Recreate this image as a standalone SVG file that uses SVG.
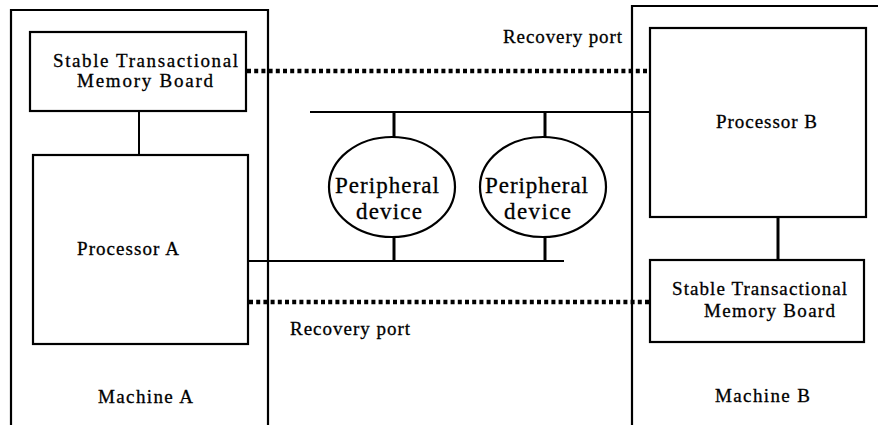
<svg xmlns="http://www.w3.org/2000/svg" width="878" height="425" viewBox="0 0 878 425">
<style>
.box{fill:none;stroke:#000;stroke-width:2.2}
.ln{fill:none;stroke:#000;stroke-width:2}
.thick{fill:none;stroke:#000;stroke-width:3}
.dot{fill:none;stroke:#000;stroke-width:4.5;stroke-dasharray:4 3.2}
text{font-family:"Liberation Serif","Times New Roman",serif;font-size:19px;fill:#000;stroke:#000;stroke-width:0.3}
.big{font-size:23px}
</style>
<rect width="878" height="425" fill="#fff" stroke="none"/>
<g id="machineA">
<polyline class="box" points="11,425 11,10 268,10 268,425"/>
<text x="98" y="403" textLength="95">Machine A</text>
</g>
<g id="machineB">
<polyline class="box" points="632,425 632,6 878,6"/>
<text x="715" y="402" textLength="95">Machine B</text>
</g>
<g id="stmbA">
<rect class="box" x="30" y="32" width="216" height="79"/>
<text x="53" y="67" textLength="185">Stable Transactional</text>
<text x="77" y="87" textLength="136">Memory Board</text>
</g>
<g id="processorA">
<rect class="box" x="33" y="155" width="215" height="189"/>
<text x="77" y="255" textLength="102">Processor A</text>
</g>
<g id="processorB">
<rect class="box" x="650" y="28" width="216" height="189"/>
<text x="716" y="128" textLength="101">Processor B</text>
</g>
<g id="stmbB">
<rect class="box" x="650" y="260" width="214" height="82"/>
<text x="672" y="295" textLength="175">Stable Transactional</text>
<text x="704" y="317" textLength="131">Memory Board</text>
</g>
<g id="peripheral1">
<ellipse class="box" cx="392" cy="187" rx="63" ry="50"/>
<text class="big" x="335" y="193" textLength="104">Peripheral</text>
<text class="big" x="356" y="219" textLength="66">device</text>
</g>
<g id="peripheral2">
<ellipse class="box" cx="543" cy="187" rx="63" ry="50"/>
<text class="big" x="485" y="193" textLength="103">Peripheral</text>
<text class="big" x="504" y="219" textLength="67">device</text>
</g>
<g id="connectors">
<line class="ln" x1="139" y1="111" x2="139" y2="155"/>
<line class="thick" x1="778" y1="217" x2="778" y2="260"/>
<line class="ln" x1="310" y1="112" x2="650" y2="112"/>
<line class="ln" x1="248" y1="261" x2="564" y2="261"/>
<line class="thick" x1="394" y1="112" x2="394" y2="137"/>
<line class="thick" x1="545" y1="112" x2="545" y2="137"/>
<line class="thick" x1="394" y1="237" x2="394" y2="261"/>
<line class="thick" x1="545" y1="237" x2="545" y2="261"/>
<line class="dot" x1="247" y1="71" x2="650" y2="71"/>
<line class="dot" x1="249" y1="302" x2="650" y2="302"/>
<text x="503" y="43" textLength="119">Recovery port</text>
<text x="290" y="335" textLength="120">Recovery port</text>
</g>
</svg>
